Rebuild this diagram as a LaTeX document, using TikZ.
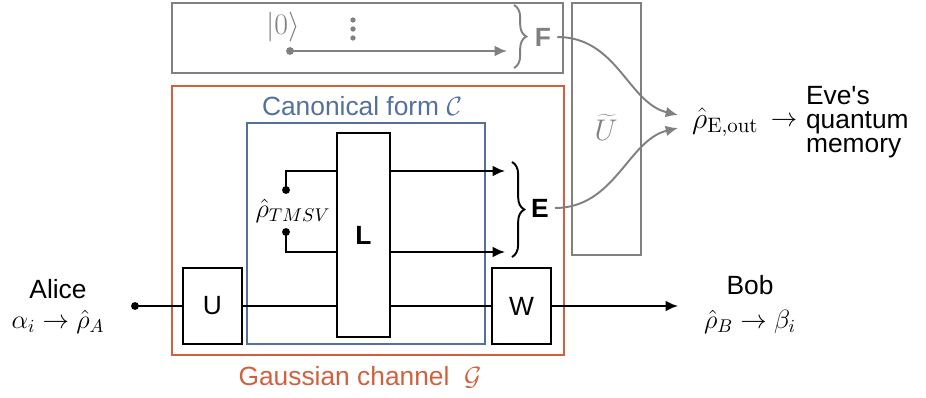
\RequirePackage{fix-cm}
\documentclass[tikz,border=0pt]{standalone}
\usepackage[no-math]{fontspec}
\setmainfont{Liberation Sans}
\usetikzlibrary{arrows.meta, positioning, calc, decorations.pathreplacing}
\definecolor{chanorange}{RGB}{209,96,62}
\definecolor{canonblue}{RGB}{84,113,156}
\definecolor{evegray}{RGB}{128,128,128}

\begin{document}
\begin{tikzpicture}[
        x=0.02cm, y=-0.02cm,
        every node/.style={font=\fontsize{15}{18}\selectfont},
        blk/.style={
            draw,
            line width=1.4pt,
            fill=white,
            minimum width=1.18cm,
            minimum height=1.52cm,
            inner sep=0pt
        },
        frame/.style={line width=1.3pt},
        wire/.style={line width=1.1pt},
        graywire/.style={evegray, line width=1.1pt},
        tip/.style={-{Latex[length=7pt, width=6pt]}},
        bracedeco/.style={decorate, decoration={brace, amplitude=7pt}, line width=1.1pt},
        port/.style={circle, fill, inner sep=0pt, minimum size=4.5pt},
        bold/.style={font=\fontsize{15}{18}\selectfont\bfseries}
    ]
        \useasboundingbox (0,0) rectangle (926,398);

        % frames
        \draw[frame, evegray] (172,3) rectangle (563,73);
        \draw[frame, evegray] (572,3) rectangle (641,255);
        \draw[frame, chanorange] (172,86) rectangle (564,355);
        \draw[frame, canonblue] (247,123) rectangle (485,344);

        \node[text=canonblue] (canonlbl) at (362,106) {Canonical form $\mathcal{C}$};
        \node[text=chanorange] (chanlbl) at (360,377) {Gaussian channel\ \ $\mathcal{G}$};
        \node[text=evegray, font=\fontsize{17}{20}\selectfont] (utilde) at (606,127) {$\widetilde{U}$};

        % blocks
        \node[blk] (U) at (212.5,306) {U};
        \node[blk] (W) at (521.5,306) {W};
        \node[blk, bold, minimum width=1.06cm, minimum height=4.08cm] (L) at (363.5,235) {L};

        % main line
        \node (alice) at (58,289) {Alice};
        \node (alicest) at (58,322) {$\alpha_i \rightarrow \hat\rho_A$};
        \node (bob) at (750,285) {Bob};
        \node (bobst) at (750,322) {$\hat\rho_B \rightarrow \beta_i$};
        \node[port] (adot) at (135,306) {};
        \coordinate (bobin) at (678,306);
        \draw[wire] (adot.center) -- (U.west);
        \draw[wire] (U.east) -- (U.east -| L.west);
        \draw[wire] (L.east |- U.east) -- (W.west);
        \draw[wire, tip] (W.east) -- (bobin);

        % two-mode squeezed vacuum
        \node[port] (tm1) at (286,190) {};
        \node[port] (tm2) at (286,232) {};
        \node (rhotmsv) at (293,211) {$\hat\rho_{TMSV}$};
        \coordinate (e1) at (505,171);
        \coordinate (e2) at (505,252);
        \draw[wire] (tm1.center) |- (e1 -| L.west);
        \draw[wire] (tm2.center) |- (e2 -| L.west);
        \draw[wire, tip] (e1 -| L.east) -- (e1);
        \draw[wire, tip] (e2 -| L.east) -- (e2);
        \draw[bracedeco] (512,162) -- (512,257);
        \node[bold] (E) at (540,208) {E};

        % vacuum modes
        \node[text=evegray, font=\fontsize{17}{20}\selectfont] (ket) at (283,27) {$|0\rangle$};
        \foreach \dy in {20,29,38}
            \fill[evegray] (353,\dy) circle (1.5pt);
        \node[port, evegray] (z0) at (290,51) {};
        \coordinate (f0) at (507,51);
        \draw[graywire, tip] (z0.center) -- (f0);
        \draw[bracedeco, evegray] (514,5) -- (514,68);
        \node[bold, text=evegray] (F) at (543,37) {F};

        % Eve
        \coordinate (ein1) at (678,115);
        \coordinate (ein2) at (678,128);
        \node[anchor=west, font=\fontsize{17}{20}\selectfont] (rhoE) at (686,122) {$\hat\rho_{\mathrm{E,out}}$};
        \node[right=0pt of rhoE] (evearr) {$\rightarrow$};
        \node[right=-2pt of evearr, align=left, font=\fontsize{15}{13.5}\selectfont] (eve) {Eve\textquotesingle s\\quantum\\memory};
        \draw[graywire, tip] (F.east) .. controls +(60,0) and +(-50,-12) .. (ein1);
        \draw[graywire, tip] (E.east) .. controls +(60,0) and +(-50,12) .. (ein2);
    \end{tikzpicture}
\end{document}
